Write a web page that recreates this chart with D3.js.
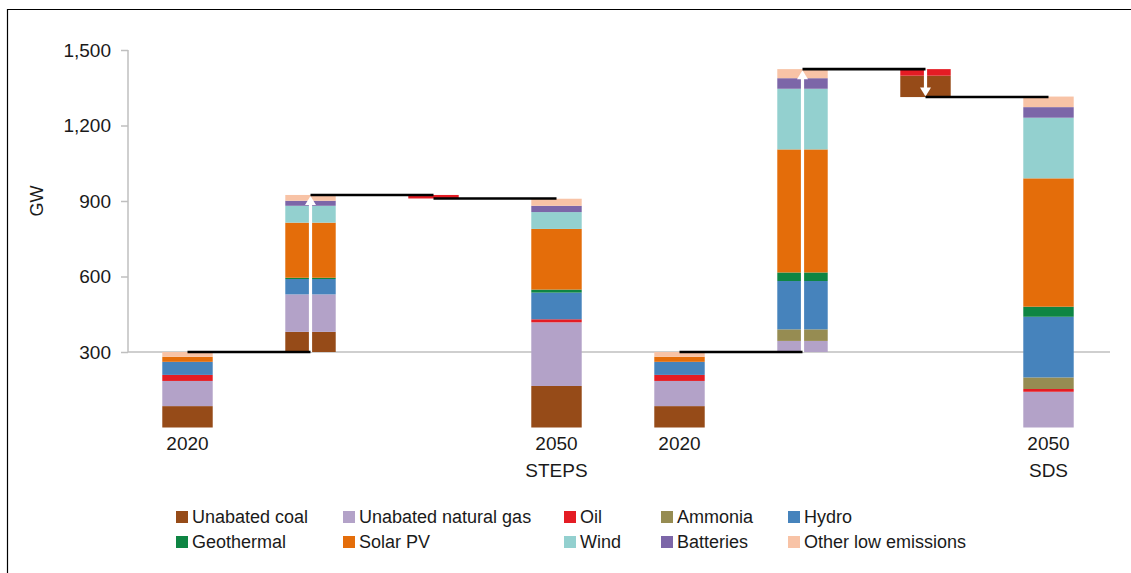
<!DOCTYPE html>
<html>
<head>
<meta charset="utf-8">
<script src="https://cdn.jsdelivr.net/npm/d3@7"></script>
<style>
  html, body { margin: 0; padding: 0; background: #fff; }
  svg { display: block; }
  text { font-family: "Liberation Sans", Arial, sans-serif; fill: #1a1a1a; }
</style>
</head>
<body>
<svg id="chart" width="1131" height="573"></svg>
<script>
// ---------------- DATA ----------------
const categories = ["2020 STEPS", "STEPS additions", "STEPS removals", "2050 STEPS",
                    "2020 SDS", "SDS additions", "SDS removals", "2050 SDS"];
const tickLabels = [["2020"], [], [], ["2050", "STEPS"], ["2020"], [], [], ["2050", "SDS"]];
const barTypes = ["total", "increase", "decrease", "total", "total", "increase", "decrease", "total"];
const barBase  = [0, 300, 910, 0, 0, 300, 1313, 0];
const groups   = [[0, 1, 2, 3], [4, 5, 6, 7]];

const seriesNames = ["Unabated coal", "Unabated natural gas", "Oil", "Ammonia", "Hydro",
                     "Geothermal", "Solar PV", "Wind", "Batteries", "Other low emissions"];
const coal       = [85, 80, 0, 165, 85, 0, 85, 0];
const gas        = [100, 149, 0, 253, 100, 44, 0, 142];
const oil        = [24, 0, 14, 12, 24, 0, 26, 11];
const ammonia    = [0, 0, 0, 0, 0, 46, 0, 46];
const hydro      = [52, 61, 0, 106, 52, 192, 0, 241];
const geothermal = [0, 5, 0, 12, 0, 34, 0, 40];
const solar      = [20, 219, 0, 241, 20, 489, 0, 510];
const wind       = [0, 67, 0, 67, 0, 241, 0, 241];
const batteries  = [0, 20, 0, 25, 0, 42, 0, 42];
const other      = [19, 23, 0, 28, 19, 36, 0, 42];
const seriesValues = [coal, gas, oil, ammonia, hydro, geothermal, solar, wind, batteries, other];
const seriesColors = ["#964B18", "#B3A2C8", "#E41C24", "#968C52", "#4683BC",
                      "#0E8543", "#E46D0A", "#93D0CF", "#7C66A8", "#F8C3A6"];
const yTicks = [300, 600, 900, 1200, 1500];
const yLabel = "GW";

// ---------------- LAYOUT ----------------
const svg = d3.select("#chart");
const x = d3.scaleBand().domain(categories).range([126, 1110]).paddingInner(0.59).paddingOuter(0.295);
const y = d3.scaleLinear().domain([0, 1500]).range([427.5, 50]);
const fmt = d3.format(",");

// frame
svg.append("path").attr("d", "M7.5,573 V9.5 H1131").attr("fill", "none")
   .attr("stroke", "#000").attr("stroke-width", 1.2);

// y axis
const yAxis = d3.axisLeft(y).tickValues(yTicks).tickFormat(fmt).tickSize(7).tickPadding(10);
const ga = svg.append("g").attr("transform", "translate(128,0)").call(yAxis);
ga.select(".domain").attr("d", `M0,${y(300)}V${y(1500)}`).attr("stroke", "#BFBFBF").attr("stroke-width", 1.5);
ga.selectAll(".tick line").attr("stroke", "#BFBFBF").attr("stroke-width", 1.5);
ga.selectAll(".tick text").style("font-size", "19px").attr("fill", "#1a1a1a")
  .style("font-family", '"Liberation Sans", Arial, sans-serif');

// baseline at 300
svg.append("line").attr("x1", 128).attr("x2", 1110).attr("y1", y(300)).attr("y2", y(300))
   .attr("stroke", "#BFBFBF").attr("stroke-width", 1.5);

// y label
svg.append("text").attr("transform", `translate(43,201) rotate(-90)`)
   .attr("text-anchor", "middle").style("font-size", "18px").text(yLabel);

// bars
const bw = x.bandwidth();
const tops = [];
categories.forEach((c, i) => {
  let cum = barBase[i];
  seriesValues.forEach((vals, s) => {
    const v = vals[i];
    if (v > 0) {
      svg.append("rect")
        .attr("x", x(c)).attr("width", bw)
        .attr("y", y(cum + v)).attr("height", y(cum) - y(cum + v))
        .attr("fill", seriesColors[s]);
    }
    cum += v;
  });
  tops.push(cum);
});

// arrows
categories.forEach((c, i) => {
  const cx = x(c) + bw / 2;
  const y0 = y(barBase[i]), y1 = y(tops[i]);
  if (Math.abs(y0 - y1) < 20) return;
  if (barTypes[i] === "increase") {
    svg.append("line").attr("x1", cx).attr("x2", cx).attr("y1", y0).attr("y2", y1 + 8)
       .attr("stroke", "#fff").attr("stroke-width", 3.2);
    svg.append("path").attr("d", `M${cx},${y1 + 1}L${cx - 5.5},${y1 + 10}L${cx + 5.5},${y1 + 10}Z`).attr("fill", "#fff");
  } else if (barTypes[i] === "decrease") {
    svg.append("line").attr("x1", cx).attr("x2", cx).attr("y1", y1).attr("y2", y0 - 8)
       .attr("stroke", "#fff").attr("stroke-width", 3.2);
    svg.append("path").attr("d", `M${cx},${y0 - 0.5}L${cx - 5.5},${y0 - 9.5}L${cx + 5.5},${y0 - 9.5}Z`).attr("fill", "#fff");
  }
});

// connectors
groups.forEach(g => {
  for (let k = 0; k < g.length - 1; k++) {
    const i = g[k], j = g[k + 1];
    const level = barTypes[i] === "decrease" ? barBase[i] : tops[i];
    svg.append("line")
      .attr("x1", x(categories[i]) + bw / 2).attr("x2", x(categories[j]) + bw / 2)
      .attr("y1", y(level)).attr("y2", y(level))
      .attr("stroke", "#000").attr("stroke-width", 2.6);
  }
});

// x labels
categories.forEach((c, i) => {
  tickLabels[i].forEach((t, k) => {
    svg.append("text").attr("x", x(c) + bw / 2).attr("y", 450 + k * 26.5)
       .attr("text-anchor", "middle").style("font-size", "19px").text(t);
  });
});

// legend
const legX = [176, 343, 564, 661, 788];
const legY = [517, 542];
seriesNames.forEach((n, s) => {
  const col = s % 5, row = Math.floor(s / 5);
  const g = svg.append("g").attr("transform", `translate(${legX[col]},${legY[row]})`);
  g.append("rect").attr("x", 0).attr("y", -6).attr("width", 12).attr("height", 12).attr("fill", seriesColors[s]);
  g.append("text").attr("x", 16).attr("y", 0).attr("dy", "0.35em").style("font-size", "18px").text(n);
});
</script>
</body>
</html>
